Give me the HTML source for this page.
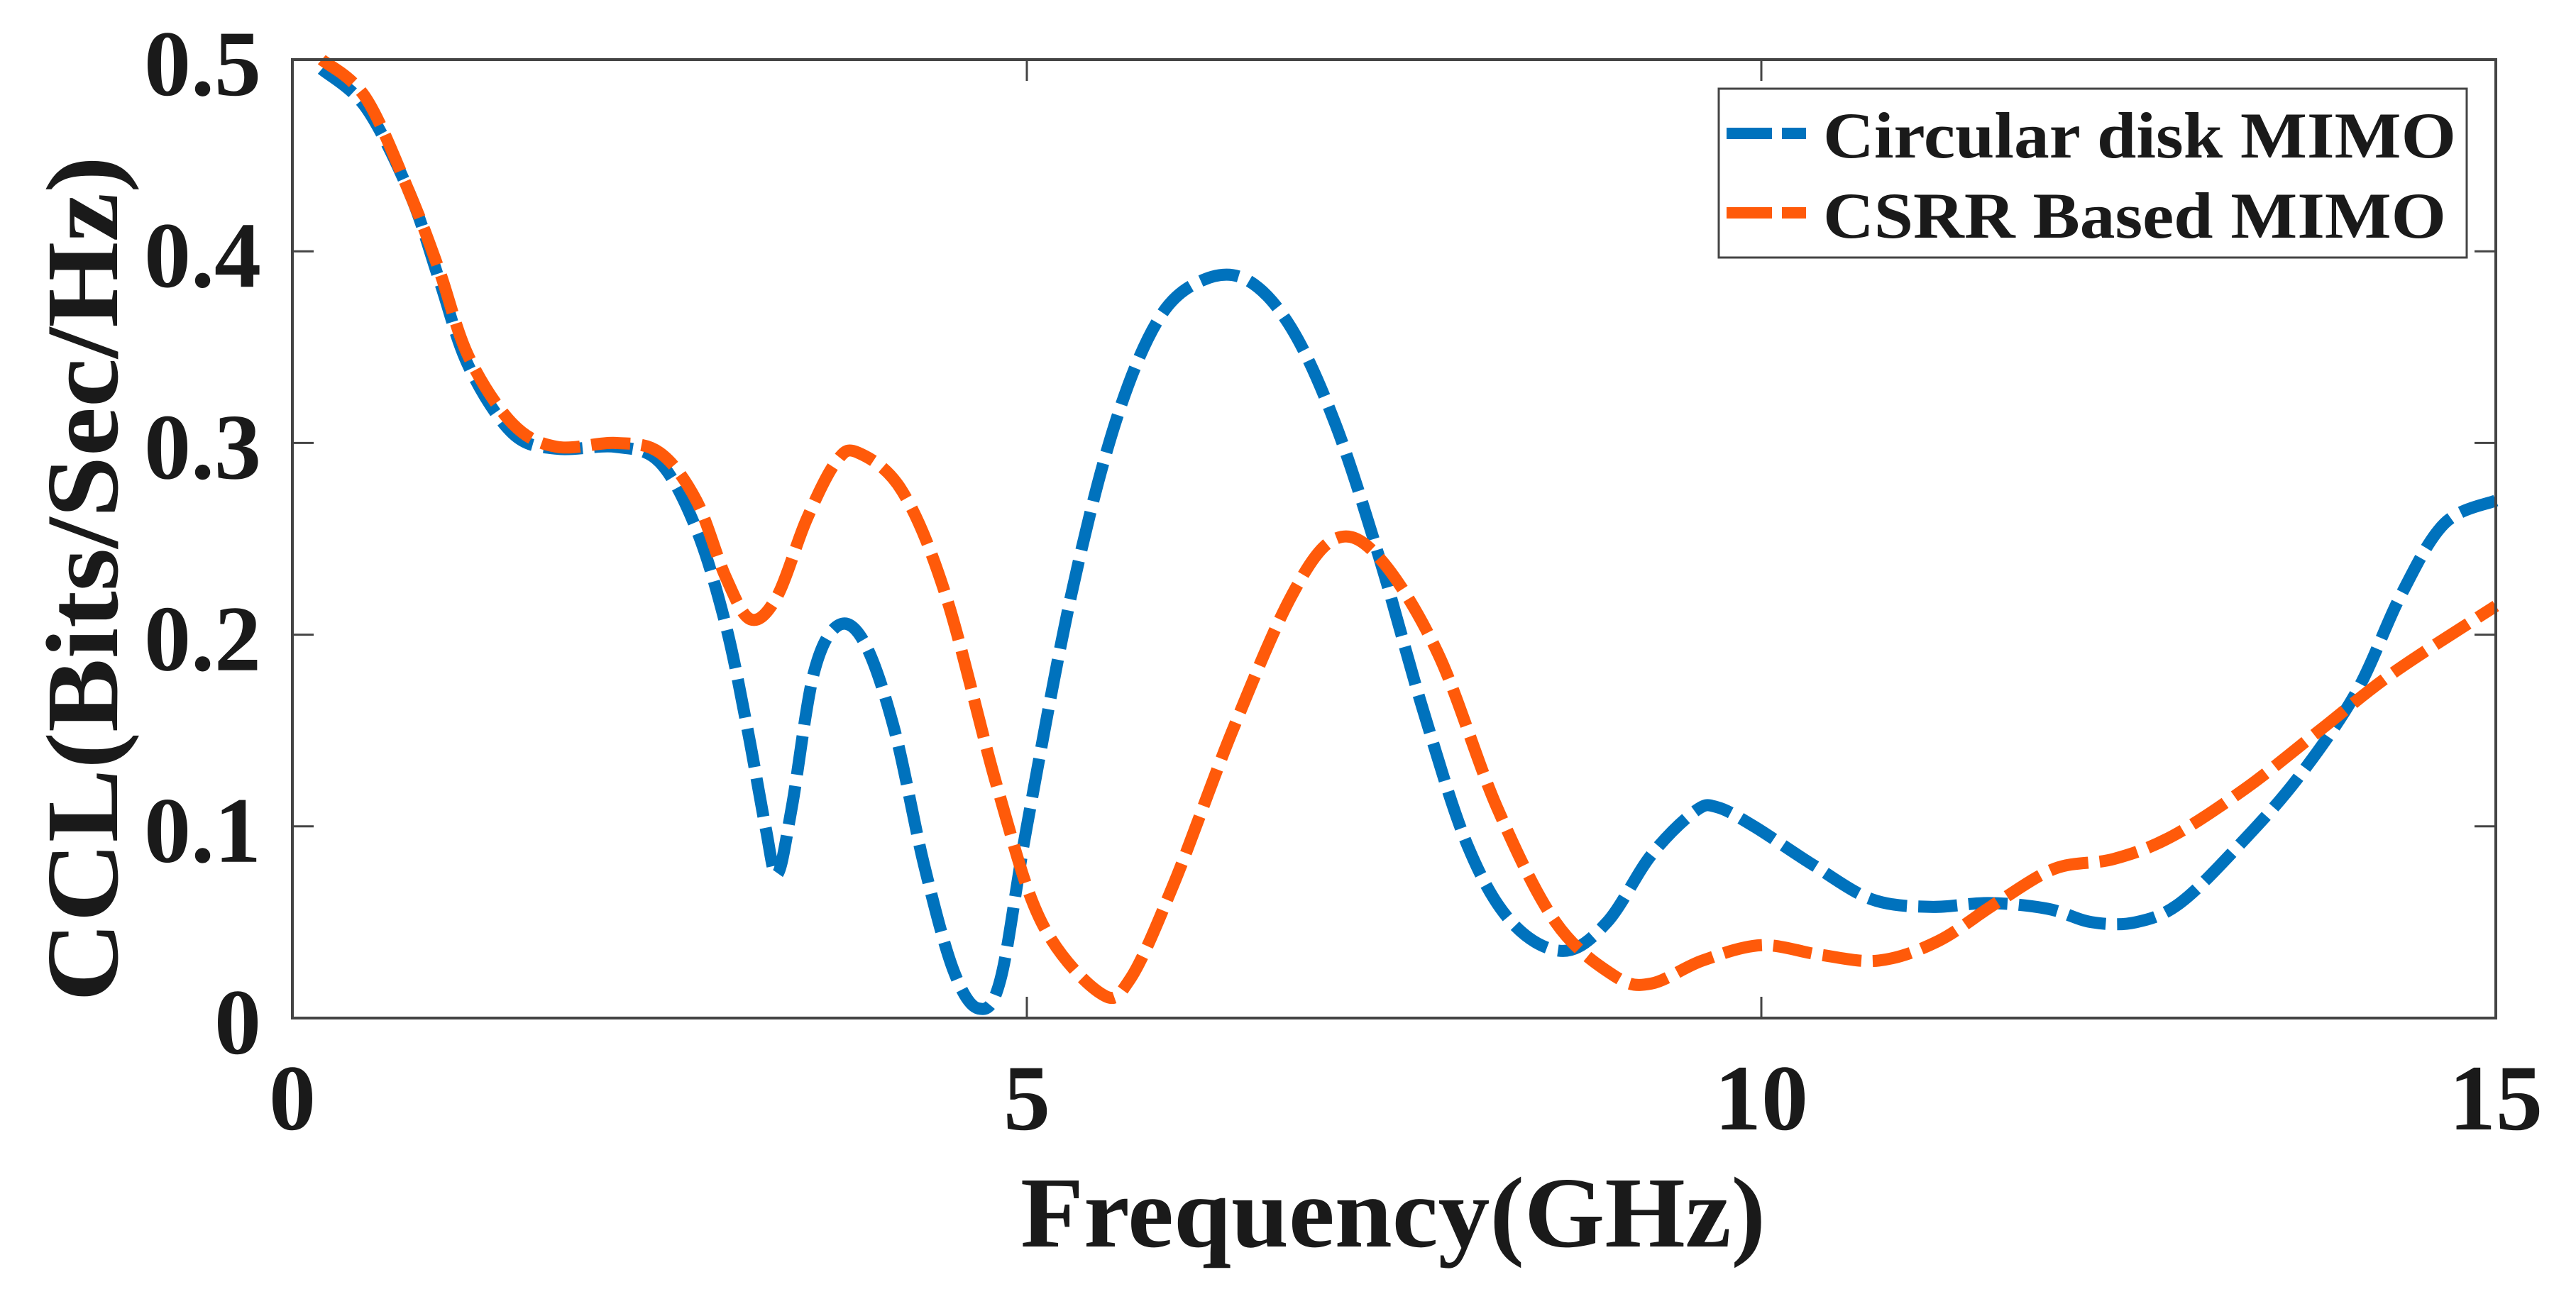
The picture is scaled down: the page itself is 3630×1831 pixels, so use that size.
<!DOCTYPE html>
<html><head><meta charset="utf-8"><style>
html,body{margin:0;padding:0;background:#fff;width:3630px;height:1831px;overflow:hidden}
text{font-family:"Liberation Serif",serif;font-weight:bold;fill:#1a1a1a}
</style></head><body>
<svg id="chart" width="3630" height="1831" viewBox="0 0 3630 1831" xmlns="http://www.w3.org/2000/svg">
<g id="series"></g>
<rect x="412" y="84" width="3105" height="1351" fill="none" stroke="#444" stroke-width="4"/>
<g id="ticks"></g>
<text transform="translate(165,1412) rotate(-90)" font-size="145" textLength="1192" lengthAdjust="spacingAndGlyphs">CCL(Bits/Sec/Hz)</text>
<text x="1438" y="1757" font-size="142" textLength="1050" lengthAdjust="spacingAndGlyphs">Frequency(GHz)</text>
<g>
<rect x="2422" y="125" width="1054" height="238" fill="#fff" stroke="#444" stroke-width="3"/>
<line x1="2433" y1="188" x2="2545" y2="188" stroke="#0072BD" stroke-width="16" stroke-dasharray="64 14"/>
<text x="2569" y="222" font-size="92" textLength="892" lengthAdjust="spacingAndGlyphs">Circular disk MIMO</text>
<line x1="2433" y1="300" x2="2545" y2="300" stroke="#FF5A0A" stroke-width="16" stroke-dasharray="64 14"/>
<text x="2569" y="335" font-size="92" textLength="878" lengthAdjust="spacingAndGlyphs">CSRR Based MIMO</text>
</g>
</svg>
<script>
const xTicks = [0, 5, 10, 15];
const yTicks = [0, 0.1, 0.2, 0.3, 0.4, 0.5];
const yTickLabels = ["0", "0.1", "0.2", "0.3", "0.4", "0.5"];
const circFreq = [0.2,0.5,0.8,1.0,1.2,1.5,1.8,2.2,2.5,2.75,2.95,3.1,3.22,3.3,3.4,3.55,3.72,3.9,4.1,4.3,4.5,4.67,4.82,5.0,5.3,5.6,5.9,6.2,6.5,6.8,7.1,7.4,7.7,8.0,8.3,8.65,8.95,9.25,9.55,9.7,9.95,10.35,10.75,11.15,11.55,11.95,12.25,12.55,12.85,13.25,13.65,14.05,14.35,14.65,15.0];
const circCCL = [0.495,0.475,0.43,0.385,0.34,0.305,0.297,0.298,0.29,0.255,0.205,0.15,0.10,0.075,0.11,0.18,0.205,0.195,0.15,0.08,0.025,0.005,0.02,0.10,0.22,0.31,0.365,0.385,0.385,0.36,0.31,0.24,0.16,0.09,0.05,0.035,0.05,0.085,0.108,0.11,0.10,0.08,0.062,0.058,0.06,0.057,0.05,0.05,0.06,0.09,0.125,0.17,0.22,0.258,0.27];
const csrrFreq = [0.2,0.5,0.8,1.0,1.2,1.5,1.8,2.2,2.5,2.75,2.95,3.12,3.3,3.5,3.7,3.85,4.15,4.45,4.8,5.1,5.5,5.7,6.0,6.4,6.8,7.1,7.4,7.8,8.2,8.6,9.0,9.25,9.6,10.0,10.4,10.8,11.2,11.6,12.0,12.4,12.8,13.3,13.8,14.3,15.0];
const csrrCCL = [0.50,0.48,0.43,0.39,0.345,0.31,0.298,0.30,0.295,0.27,0.23,0.208,0.22,0.26,0.29,0.295,0.275,0.22,0.12,0.05,0.013,0.02,0.07,0.15,0.22,0.25,0.24,0.19,0.11,0.05,0.022,0.018,0.03,0.038,0.033,0.03,0.04,0.06,0.078,0.083,0.095,0.12,0.15,0.18,0.215];

const X0=412, X1=3517, Y0=1435, Y1=84;
const sx = f => X0 + (f-0)/(15-0)*(X1-X0);
const sy = v => Y0 - (v-0)/(0.5-0)*(Y0-Y1);
const NS="http://www.w3.org/2000/svg";

function smoothPath(xs, ys){
  const p = xs.map((x,i)=>[sx(x), sy(ys[i])]);
  let d = "M"+p[0][0].toFixed(1)+","+p[0][1].toFixed(1);
  for(let i=0;i<p.length-1;i++){
    const a=p[Math.max(0,i-1)], b=p[i], c=p[i+1], e=p[Math.min(p.length-1,i+2)];
    const c1=[b[0]+(c[0]-a[0])/6, b[1]+(c[1]-a[1])/6];
    const c2=[c[0]-(e[0]-b[0])/6, c[1]-(e[1]-b[1])/6];
    d+=" C"+c1.map(v=>v.toFixed(1)).join(",")+" "+c2.map(v=>v.toFixed(1)).join(",")+" "+c.map(v=>v.toFixed(1)).join(",");
  }
  return d;
}
const sg=document.getElementById("series");
const p1=document.createElementNS(NS,"path");
p1.setAttribute("d",smoothPath(circFreq,circCCL));
p1.setAttribute("fill","none");p1.setAttribute("stroke","#0072BD");p1.setAttribute("stroke-width","17");p1.setAttribute("stroke-dasharray","55 16");


sg.appendChild(p1);
const p2=document.createElementNS(NS,"path");
p2.setAttribute("d",smoothPath(csrrFreq,csrrCCL));
p2.setAttribute("fill","none");p2.setAttribute("stroke","#FF5A0A");p2.setAttribute("stroke-width","17");p2.setAttribute("stroke-dasharray","55 16");


sg.appendChild(p2);

const tg=document.getElementById("ticks");
xTicks.forEach(t=>{
  const x=sx(t);
  [[Y0,Y0-30],[Y1,Y1+30]].forEach(([a,b])=>{
    const l=document.createElementNS(NS,"line");
    l.setAttribute("x1",x);l.setAttribute("x2",x);l.setAttribute("y1",a);l.setAttribute("y2",b);
    l.setAttribute("stroke","#444");l.setAttribute("stroke-width","3");
    
    
    tg.appendChild(l);
  });
  const tx=document.createElementNS(NS,"text");
  tx.setAttribute("x",x);tx.setAttribute("y",1592);tx.setAttribute("font-size","132");tx.setAttribute("text-anchor","middle");
  tx.textContent=String(t);
  
  
  tg.appendChild(tx);
});
yTicks.forEach((t,i)=>{
  const y=sy(t);
  [[X0,X0+30],[X1,X1-30]].forEach(([a,b])=>{
    const l=document.createElementNS(NS,"line");
    l.setAttribute("x1",a);l.setAttribute("x2",b);l.setAttribute("y1",y);l.setAttribute("y2",y);
    l.setAttribute("stroke","#444");l.setAttribute("stroke-width","3");
    
    
    tg.appendChild(l);
  });
  const tx=document.createElementNS(NS,"text");
  tx.setAttribute("x",368);tx.setAttribute("y",y+50);tx.setAttribute("font-size","132");tx.setAttribute("text-anchor","end");
  tx.textContent=yTickLabels[i];
  
  
  tg.appendChild(tx);
});
</script>
</body></html>
